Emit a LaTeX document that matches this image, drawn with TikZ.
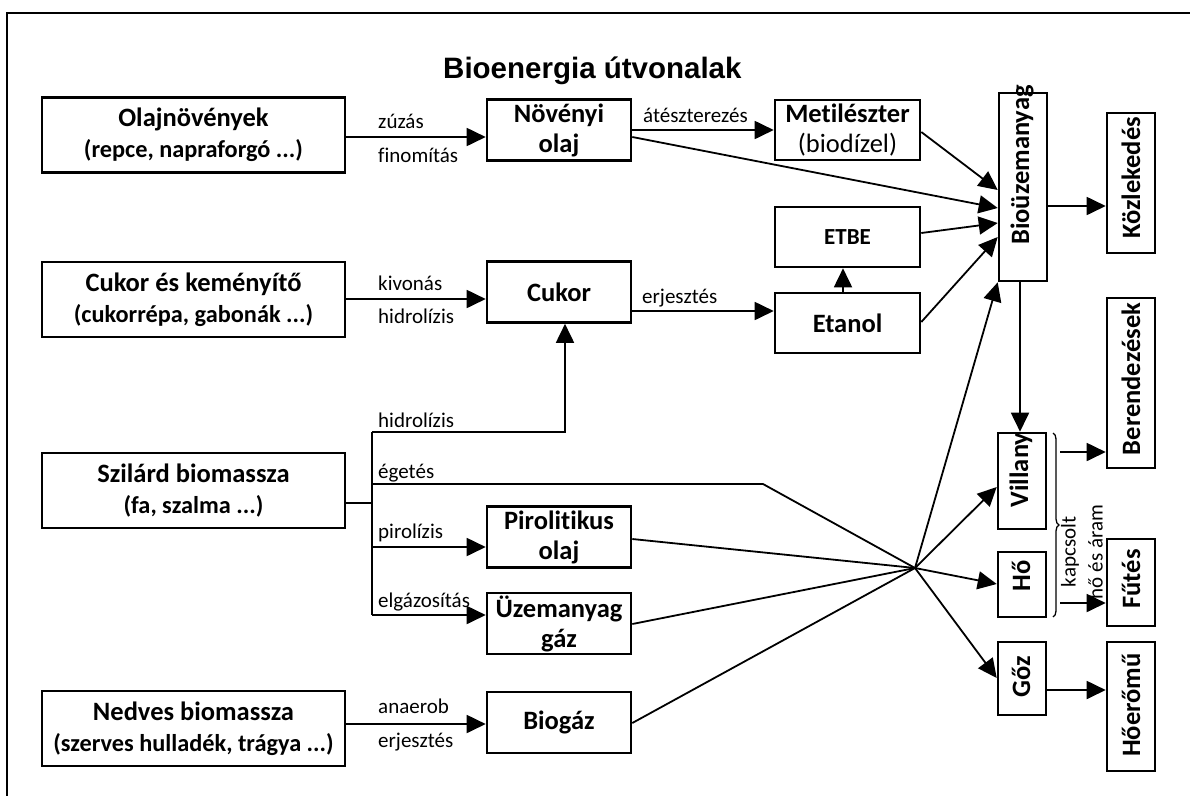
\documentclass[tikz,border=0pt]{standalone}
\usepackage{fontspec}
\setmainfont{Carlito}[Ligatures={NoCommon}]
\newfontfamily\titlefont{Liberation Sans}
\usetikzlibrary{arrows.meta,decorations.pathreplacing,calc}
\newcommand{\subl}[1]{{\fontsize{24.3}{30}\selectfont #1}}
\begin{document}
\begin{tikzpicture}[x=1pt,y=-1pt,
  box/.style={draw,line width=2.6pt,inner sep=0pt,align=center,font=\fontsize{26.5}{30}\selectfont\bfseries},
  vbox/.style={draw,line width=2.6pt,inner sep=0pt},
  vtxt/.style={rotate=90,inner sep=0pt,font=\fontsize{26.5}{30}\selectfont\bfseries},
  lbl/.style={anchor=base west,inner sep=0pt,font=\fontsize{21}{25}\selectfont},
  arr/.style={line width=1.8pt,-{Triangle[length=19pt,width=18pt]}},
  ln/.style={line width=1.8pt},
  lw/.style={minimum width=303pt,minimum height=75pt},
  mw/.style={minimum width=144pt,minimum height=61pt},
  rw/.style={minimum width=145pt,minimum height=60pt},
]
\useasboundingbox (0,0) rectangle (1190,796);
% frame
\draw[line width=2pt] (1190,12.6) -- (6.5,12.6) -- (6.5,796);
% title
\node[anchor=base west,inner sep=0pt,font=\titlefont\bfseries\fontsize{29.5}{34}\selectfont] (title) at (443,78) {Bioenergia útvonalak};
% left column
\node[box,lw] (oln) at (193.5,135) {Olajnövények\\[1pt]\subl{(repce, napraforgó ...)}};
\node[box,lw] (cuk1) at (193.5,299.5) {Cukor és keményítő\\[1pt]\subl{(cukorrépa, gabonák ...)}};
\node[box,lw] (szil) at (193.5,490.5) {Szilárd biomassza\\[1pt]\subl{(fa, szalma ...)}};
\node[box,lw] (nedv) at (193.5,728.5) {Nedves biomassza\\[1pt]\subl{(szerves hulladék, trágya ...)}};
% middle column
\node[box,mw] (nov) at (559,130) {Növényi\\olaj};
\node[box,mw] (cukor) at (559,292) {Cukor};
\node[box,mw] (piro) at (559,537) {Pirolitikus\\olaj};
\node[box,mw] (uzg) at (559,623.5) {Üzemanyag\\gáz};
\node[box,mw] (biog) at (559,722.5) {Biogáz};
% third column
\node[box,rw] (metil) at (847.5,130) {Metilészter\\{\mdseries(biodízel)}};
\node[box,rw,font=\fontsize{23}{27}\selectfont\bfseries] (etbe) at (847.5,237) {ETBE};
\node[box,rw] (etanol) at (847.5,323) {Etanol};
% right boxes
\node[vbox,minimum width=48pt,minimum height=188pt] (bio) at (1023,187) {};
\node[vtxt] (biot) at (1022,165) {Bioüzemanyag};
\node[vbox,minimum width=48pt,minimum height=96pt] (vill) at (1022,481) {};
\node[vtxt] (villt) at (1021,470) {Villany};
\node[vbox,minimum width=48pt,minimum height=65pt] (ho) at (1022,584.5) {};
\node[vtxt] (hot) at (1021,576) {Hő};
\node[vbox,minimum width=48pt,minimum height=73pt] (goz) at (1022,678.5) {};
\node[vtxt] (gozt) at (1021,677) {Gőz};
\node[vbox,minimum width=48pt,minimum height=140pt] (kozl) at (1131,183) {};
\node[vtxt] (kozlt) at (1131,178) {Közlekedés};
\node[vbox,minimum width=48pt,minimum height=170pt] (bere) at (1131,383) {};
\node[vtxt] (beret) at (1131,379) {Berendezések};
\node[vbox,minimum width=48pt,minimum height=87pt] (futes) at (1131,582.5) {};
\node[vtxt] (futest) at (1131,579) {Fűtés};
\node[vbox,minimum width=48pt,minimum height=129pt] (hoer) at (1131,706.5) {};
\node[vtxt] (hoert) at (1131,705) {Hőerőmű};
% labels
\node[lbl] (l1) at (378,128) {zúzás};
\node[lbl] (l2) at (378,162) {finomítás};
\node[lbl] (l3) at (378,290) {kivonás};
\node[lbl] (l4) at (378,323) {hidrolízis};
\node[lbl] (l5) at (378,427) {hidrolízis};
\node[lbl] (l6) at (378,478) {égetés};
\node[lbl] (l7) at (378,538) {pirolízis};
\node[lbl] (l8) at (378,607) {elgázosítás};
\node[lbl] (l9) at (378,713) {anaerob};
\node[lbl] (l10) at (378,747) {erjesztés};
\node[lbl] (l11) at (643,122) {átészterezés};
\node[lbl] (l12) at (642,303) {erjesztés};
\node[rotate=90,align=center,inner sep=0pt,font=\fontsize{21}{27}\selectfont] (kap) at (1082,552) {kapcsolt\\hő és áram};
% coordinates
\coordinate (conv) at (915,568);
\coordinate (stub) at (372,503);
\coordinate (brt) at (372,432);
\coordinate (brb) at (372,615);
\coordinate (hb) at (565,432);
\coordinate (eg1) at (372,484);
\coordinate (eg2) at (763,484);
\coordinate (pb) at (372,547);
\coordinate (bv) at (1060,452);
\coordinate (bh) at (1060,603);
% connectors
\draw[arr] (oln.east |- 0,137) -- (nov.west |- 0,137);
\draw[arr] (cuk1.east |- 0,299) -- (cukor.west |- 0,299);
\draw[arr] (nedv.east |- 0,724) -- (biog.west |- 0,724);
\draw[arr] (nov.east |- 0,130) -- (metil.west |- 0,130);
\draw[arr] (cukor.east |- 0,311) -- (etanol.west |- 0,311);
\draw[arr] (etanol.north -| 843,0) -- (etbe.south -| 843,0);
\draw[arr] (nov.east |- 0,137) -- (bio.west |- 0,208);
\draw[arr] (metil.east |- 0,132) -- (bio.west |- 0,190);
\draw[arr] (etbe.east |- 0,233) -- (bio.west |- 0,223);
\draw[arr] (etanol.east |- 0,322) -- (bio.west |- 0,237);
\draw[arr] (bio.east |- 0,206) -- (kozl.west |- 0,206);
\draw[arr] (bio.south -| 1020,0) -- (vill.north -| 1020,0);
\draw[ln] (szil.east |- stub) -- (stub);
\draw[ln] (brt) -- (brb);
\draw[arr] (brt) -- (hb) -- (cukor.south -| hb);
\draw[ln] (eg1) -- (eg2) -- (conv);
\draw[arr] (pb) -- (piro.west |- pb);
\draw[arr] (brb) -- (uzg.west |- brb);
\draw[ln] (piro.east |- 0,539) -- (conv);
\draw[ln] (uzg.east |- 0,624) -- (conv);
\draw[ln] (biog.east |- 0,723) -- (conv);
\draw[arr] (conv) -- (bio.south west);
\draw[arr] (conv) -- (vill.west |- 0,487);
\draw[arr] (conv) -- (ho.west |- 0,584);
\draw[arr] (conv) -- (goz.west |- 0,678);
\draw[line width=1.3pt,decorate,decoration={brace,amplitude=6pt}] (1053,433) -- (1053,617);
\draw[arr] (bv) -- (bere.west |- bv);
\draw[arr] (bh) -- (futes.west |- bh);
\draw[arr] (goz.east |- 0,690) -- (hoer.west |- 0,690);
\end{tikzpicture}
\end{document}
